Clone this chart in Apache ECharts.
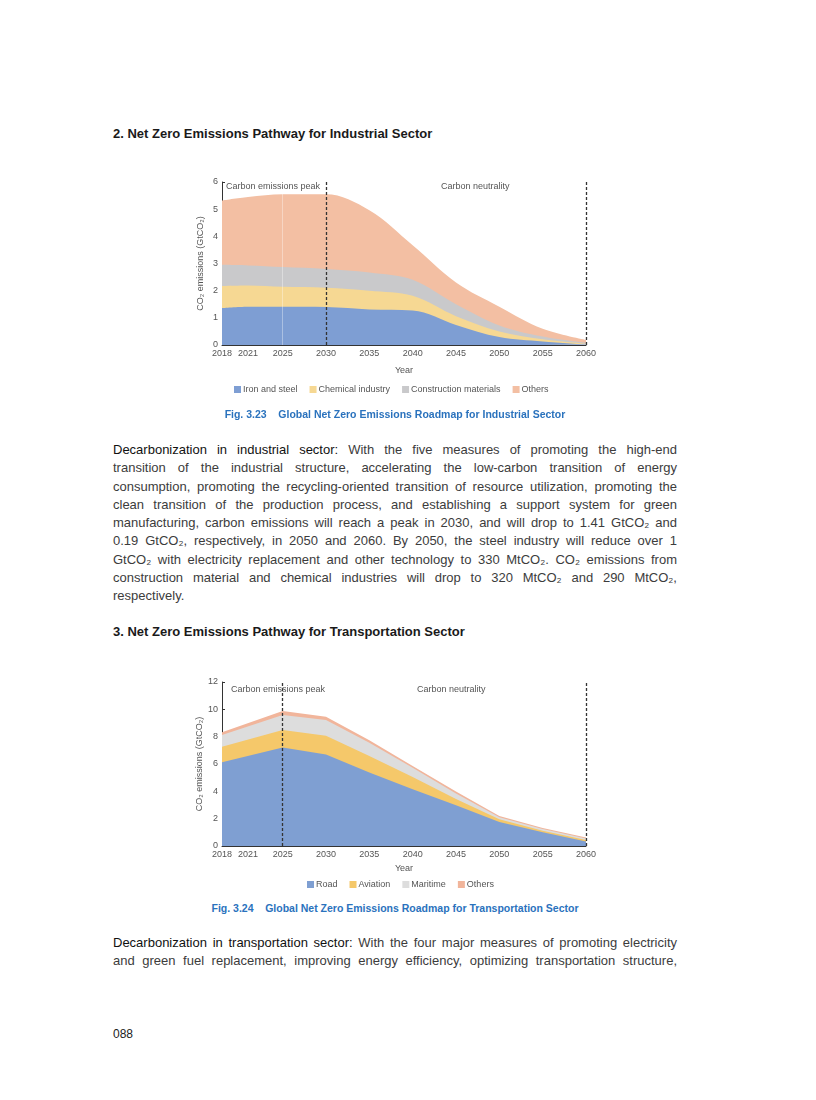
<!DOCTYPE html>
<html>
<head>
<meta charset="utf-8">
<script src="https://cdn.jsdelivr.net/npm/echarts@6/dist/echarts.min.js"></script>
<style>
  html, body { margin: 0; padding: 0; background: #fff; }
  body { width: 816px; height: 1100px; position: relative; font-family: "Liberation Sans", Arial, sans-serif; overflow: hidden; }
  .abs { position: absolute; }
  .h { left: 113px; font-size: 13px; font-weight: bold; color: #1a1a1a; }
  .cap { left: 113px; width: 564px; text-align: center; font-size: 10.5px; font-weight: bold; color: #2a72bd; }
  .para { left: 113px; width: 564px; font-size: 13px; color: #3c3c3c; line-height: 18.3px; }
  .para div { text-align: justify; text-align-last: justify; white-space: nowrap; }
  .para div.last { text-align-last: left; }
  .lead { color: #111; }
  .chart { left: 0; width: 816px; }
</style>
</head>
<body>
<div class="abs h" style="top:126px;">2. Net Zero Emissions Pathway for Industrial Sector</div>
<div id="c1" class="abs chart" style="top:160px;height:250px;"></div>
<div class="abs cap" style="top:408px;">Fig. 3.23&nbsp;&nbsp;&nbsp;&nbsp;Global Net Zero Emissions Roadmap for Industrial Sector</div>
<div class="abs para" style="top:441px;">
  <div><span class="lead">Decarbonization in industrial sector:</span> With the five measures of promoting the high-end</div>
  <div>transition of the industrial structure, accelerating the low-carbon transition of energy</div>
  <div>consumption, promoting the recycling-oriented transition of resource utilization, promoting the</div>
  <div>clean transition of the production process, and establishing a support system for green</div>
  <div>manufacturing, carbon emissions will reach a peak in 2030, and will drop to 1.41 GtCO₂ and</div>
  <div>0.19 GtCO₂, respectively, in 2050 and 2060. By 2050, the steel industry will reduce over 1</div>
  <div>GtCO₂ with electricity replacement and other technology to 330 MtCO₂. CO₂ emissions from</div>
  <div>construction material and chemical industries will drop to 320 MtCO₂ and 290 MtCO₂,</div>
  <div class="last">respectively.</div>
</div>
<div class="abs h" style="top:624px;">3. Net Zero Emissions Pathway for Transportation Sector</div>
<div id="c2" class="abs chart" style="top:660px;height:240px;"></div>
<div class="abs cap" style="top:902px;">Fig. 3.24&nbsp;&nbsp;&nbsp;&nbsp;Global Net Zero Emissions Roadmap for Transportation Sector</div>
<div class="abs para" style="top:934px;">
  <div><span class="lead">Decarbonization in transportation sector:</span> With the four major measures of promoting electricity</div>
  <div>and green fuel replacement, improving energy efficiency, optimizing transportation structure,</div>
</div>
<div class="abs" style="left:113px;top:1027px;font-size:12px;color:#222;">088</div>

<script>
// ---------- Data ----------
var xTickLabels = [2018, 2021, 2025, 2030, 2035, 2040, 2045, 2050, 2055, 2060];

// Chart 1: Industrial sector (GtCO2)
var indYears        = [2018, 2021, 2025, 2030, 2035, 2040, 2045, 2050, 2055, 2060];
var ironSteel       = [1.36, 1.41, 1.41, 1.40, 1.31, 1.27, 0.74, 0.29, 0.13, 0.02];
var chemical        = [0.81, 0.78, 0.73, 0.71, 0.69, 0.54, 0.32, 0.21, 0.08, 0.03];
var construction    = [0.78, 0.74, 0.73, 0.69, 0.67, 0.59, 0.44, 0.22, 0.10, 0.03];
var indOthers       = [2.37, 2.52, 2.68, 2.75, 2.29, 1.27, 0.80, 0.69, 0.29, 0.11];
var indNames        = ['Iron and steel', 'Chemical industry', 'Construction materials', 'Others'];
var indColors       = ['#7e9ed3', '#f6d893', '#c9c9cb', '#f3bfa3'];
var indPeakYear = 2030, indNeutralYear = 2060, indGuideYear = 2025;

// Chart 2: Transportation sector (GtCO2)
var trYears   = [2018, 2025, 2030, 2035, 2040, 2045, 2050, 2055, 2060];
var road      = [6.12, 7.20, 6.70, 5.37, 4.15, 2.98, 1.75, 1.00, 0.33];
var aviation  = [1.15, 1.29, 1.37, 1.22, 0.90, 0.45, 0.20, 0.12, 0.11];
var maritime  = [0.85, 1.10, 1.15, 0.97, 0.68, 0.42, 0.15, 0.12, 0.10];
var trOthers  = [0.20, 0.29, 0.24, 0.17, 0.12, 0.13, 0.10, 0.07, 0.08];
var trNames   = ['Road', 'Aviation', 'Maritime', 'Others'];
var trColors  = ['#7f9fd2', '#f5c86a', '#dddddd', '#f1b59b'];
var trPeakYear = 2025, trNeutralYear = 2060;

// ---------- Helpers ----------
var FONT = '"Liberation Sans", Arial, sans-serif';

// running totals so each layer is drawn from 0 up to its stacked top
function cumulative(layers) {
  var out = [], acc = layers[0].map(function () { return 0; });
  layers.forEach(function (l) {
    acc = acc.map(function (a, i) { return +(a + l[i]).toFixed(4); });
    out.push(acc.slice());
  });
  return out;
}
function pairs(xs, ys) { return xs.map(function (x, i) { return [x, ys[i]]; }); }

function xAxisCfg(nameGap) {
  return {
    type: 'value', min: 2018, max: 2060,
    name: 'Year', nameLocation: 'middle', nameGap: nameGap,
    nameTextStyle: { fontSize: 9, color: '#555', fontFamily: FONT },
    axisLine: { show: true, lineStyle: { color: '#333', width: 1 } },
    axisTick: { show: true, inside: true, length: 3, customValues: xTickLabels, lineStyle: { color: '#333' } },
    axisLabel: { customValues: xTickLabels, fontSize: 9, color: '#555', margin: 4, fontFamily: FONT,
                 formatter: function (v) { return String(v); } },
    splitLine: { show: false }
  };
}
function yAxisCfg(max, interval) {
  return {
    type: 'value', min: 0, max: max, interval: interval,
    name: 'CO₂ emissions (GtCO₂)', nameLocation: 'middle', nameGap: 17,
    nameTextStyle: { fontSize: 9, color: '#555', fontFamily: FONT },
    axisLine: { show: true, lineStyle: { color: '#333', width: 1 } },
    axisTick: { show: true, inside: true, length: 3, lineStyle: { color: '#333' } },
    axisLabel: { fontSize: 9, color: '#555', margin: 4, fontFamily: FONT },
    splitLine: { show: false }
  };
}
function dashedLines(years, guide) {
  var data = years.map(function (y) { return { xAxis: y, lineStyle: { type: [3, 2], color: '#333', width: 1.3 } }; });
  if (guide !== undefined) data.unshift({ xAxis: guide, lineStyle: { type: 'solid', color: 'rgba(255,255,255,0.35)', width: 1 } });
  return { silent: true, symbol: 'none', label: { show: false }, animation: false, z: 20, data: data };
}
function buildSeries(names, colors, years, layers, smooth, markLine) {
  var cum = cumulative(layers);
  var list = [];
  for (var i = layers.length - 1; i >= 0; i--) {
    var s = {
      name: names[i], type: 'line', smooth: smooth,
      symbol: 'none', showSymbol: false,
      lineStyle: { width: 0 }, itemStyle: { color: colors[i] },
      areaStyle: { color: colors[i], opacity: 1, origin: 'start' },
      data: pairs(years, cum[i]),
      z: 2
    };
    if (i === 0) { s.markLine = markLine; }
    list.push(s);
  }
  return list;
}
function legendCfg(left, top, names) {
  return {
    left: left, top: top, data: names, itemWidth: 7, itemHeight: 7, itemGap: 12,
    icon: 'rect', textStyle: { fontSize: 9, color: '#555', fontFamily: FONT, padding: [0, 0, 0, -3] }
  };
}
function note(left, top, text) {
  return { type: 'text', left: left, top: top, z: 100, style: { text: text, fontSize: 9, fill: '#555', fontFamily: FONT } };
}

// ---------- Chart 1 ----------
var c1 = echarts.init(document.getElementById('c1'), null, { renderer: 'canvas' });
c1.setOption({
  animation: false,
  grid: { left: 222, width: 364, top: 22, height: 163 },
  xAxis: xAxisCfg(21),
  yAxis: yAxisCfg(6, 1),
  legend: legendCfg(229, 220, indNames),
  series: buildSeries(indNames, indColors, indYears, [ironSteel, chemical, construction, indOthers], 0.35,
                      dashedLines([indPeakYear, indNeutralYear], indGuideYear)),
  graphic: [note(226, 22, 'Carbon emissions peak'), note(441, 22, 'Carbon neutrality')]
});

// ---------- Chart 2 ----------
var c2 = echarts.init(document.getElementById('c2'), null, { renderer: 'canvas' });
c2.setOption({
  animation: false,
  grid: { left: 222, width: 364, top: 22, height: 164 },
  xAxis: xAxisCfg(17),
  yAxis: yAxisCfg(12, 2),
  legend: legendCfg(302, 215, trNames),
  series: buildSeries(trNames, trColors, trYears, [road, aviation, maritime, trOthers], false,
                      dashedLines([trPeakYear, trNeutralYear])),
  graphic: [note(231, 25, 'Carbon emissions peak'), note(417, 25, 'Carbon neutrality')]
});
</script>
</body>
</html>
